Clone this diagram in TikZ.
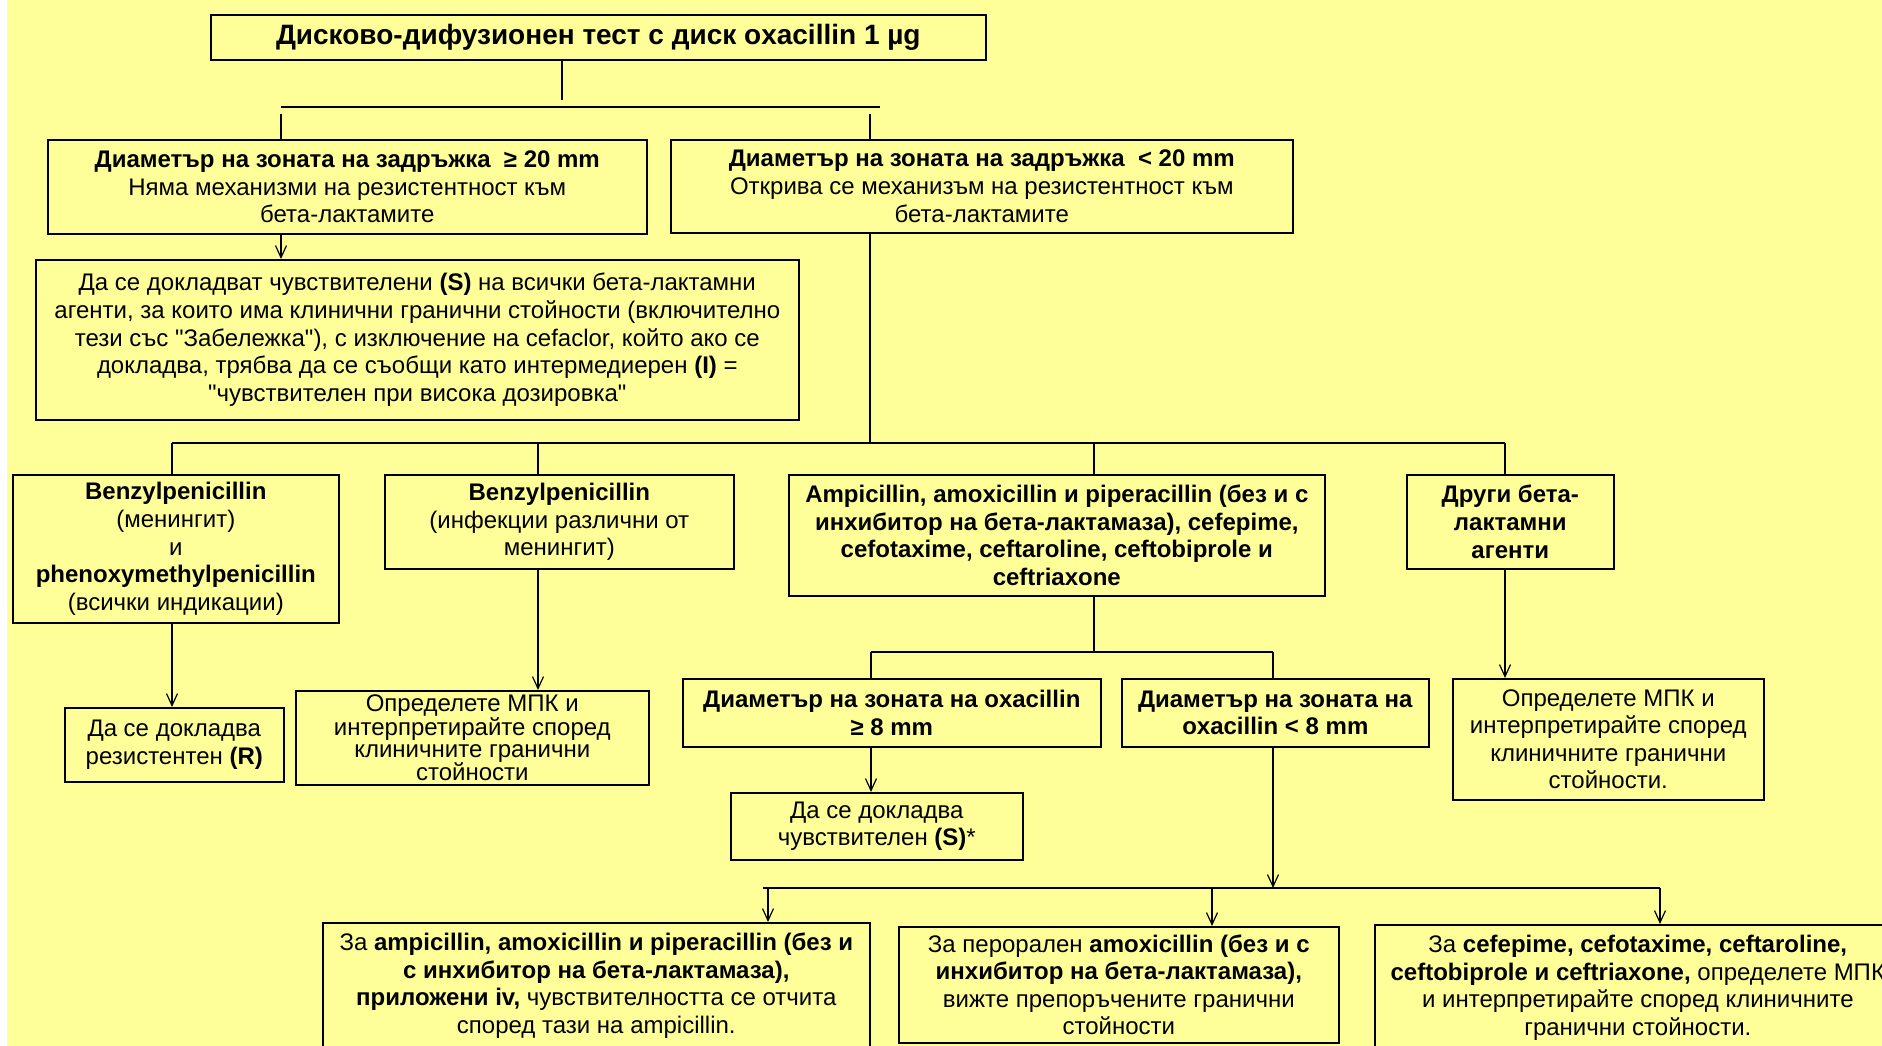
\documentclass[tikz,border=0pt]{standalone}
\usepackage{fontspec}
\setmainfont{Liberation Sans}
\usetikzlibrary{arrows.meta}
\definecolor{bgyellow}{HTML}{FFFF99}

\begin{document}
\begin{tikzpicture}[x=1pt, y=-1pt]
	\tikzset{
		fbox/.style={draw=black, line width=1.6pt, fill=bgyellow, inner sep=0pt, align=center, anchor=north west, font=\fontsize{24}{27.6}\selectfont, execute at begin node={\vspace*{5pt}}},
		bfbox/.style={fbox, font=\fontsize{24}{27.6}\selectfont\bfseries},
		headbox/.style={fbox, font=\fontsize{28}{30}\selectfont\bfseries},
		tightbox/.style={fbox, font=\fontsize{24}{22}\selectfont},
		link/.style={line width=1.2pt},
		arr/.style={link, -{Straight Barb[length=12pt, width=11pt]}}
	}
	\newcommand{\flowbox}[7][fbox]{
		\node[#1, minimum width=#5pt, minimum height=#6pt] (#2) at (#3,#4) {#7};
	}
	\useasboundingbox (0,0) rectangle (1882,1046);
	\clip (0,0) rectangle (1882,1046);
	\fill[white] (0,0) rectangle (7,1046);
	\fill[bgyellow] (7,0) rectangle (1882,1046);

	\flowbox[headbox]{title}{210}{14}{775}{45}{Дисково-дифузионен тест с диск oxacillin 1 µg}
	\flowbox{lo}{47}{139}{599}{94}{\textbf{Диаметър на зоната на задръжка~ ≥ 20 mm}\\Няма механизми на резистентност към\\бета-лактамите}
	\flowbox{hi}{670}{139}{622}{93}{\textbf{Диаметър на зоната на задръжка~ < 20 mm}\\Открива се механизъм на резистентност към\\бета-лактамите}
	\flowbox{rep}{35}{259}{763}{160}{Да се докладват чувствителени \textbf{(S)} на всички бета-лактамни\\агенти, за които има клинични гранични стойности (включително\\тези със \textquotedbl Забележка\textquotedbl), с изключение на cefaclor, който ако се\\докладва, трябва да се съобщи като интермедиерен \textbf{(I)} =\\\textquotedbl чувствителен при висока дозировка\textquotedbl}
	\flowbox{pen1}{12}{474}{326}{148}{\textbf{Benzylpenicillin}\\(менингит)\\и\\\textbf{phenoxymethylpenicillin}\\(всички индикации)}
	\flowbox{pen2}{384}{474}{349}{94}{\textbf{Benzylpenicillin}\\(инфекции различни от\\менингит)}
	\flowbox[bfbox]{amp}{788}{474}{536}{121}{Ampicillin, amoxicillin и piperacillin (без и с\\инхибитор на бета-лактамаза), cefepime,\\cefotaxime, ceftaroline, ceftobiprole и\\ceftriaxone}
	\flowbox[bfbox]{oth}{1406}{474}{207}{94}{Други бета-\\лактамни\\агенти}
	\flowbox{resR}{64}{707}{219}{74}{Да се докладва\\резистентен \textbf{(R)}}
	\flowbox[tightbox]{mic1}{295}{690}{353}{94}{Определете МПК и\\интерпретирайте според\\клиничните гранични\\стойности}
	\flowbox[bfbox]{ox1}{682}{678}{418}{68}{Диаметър на зоната на oxacillin\\≥ 8 mm}
	\flowbox[bfbox]{ox2}{1121}{678}{307}{68}{Диаметър на зоната на\\oxacillin < 8 mm}
	\flowbox{mic2}{1452}{678}{311}{121}{Определете МПК и\\интерпретирайте според\\клиничните гранични\\стойности.}
	\flowbox{sus}{730}{792}{292}{67}{Да се докладва\\чувствителен \textbf{(S)}*}
	\flowbox{fa}{322}{922}{547}{126}{За \textbf{ampicillin, amoxicillin и piperacillin (без и}\\\textbf{с инхибитор на бета-лактамаза),}\\\textbf{приложени iv,} чувствителността се отчита\\според тази на ampicillin.}
	\flowbox{fb}{898}{926}{440}{116}{За перорален \textbf{amoxicillin (без и с}\\\textbf{инхибитор на бета-лактамаза),}\\вижте препоръчените гранични\\стойности}
	\flowbox{fc}{1374}{924}{526}{126}{За \textbf{cefepime, cefotaxime, ceftaroline,}\\\textbf{ceftobiprole и ceftriaxone,} определете МПК\\и интерпретирайте според клиничните\\гранични стойности.}

	\coordinate (t0) at (562,100);
	\coordinate (bl) at (281,107);
	\coordinate (bm) at (870,107);
	\coordinate (br) at (880,107);
	\draw[link] (title.south -| t0) -- (t0);
	\draw[link] (bl) -- (br);
	\draw[link] ([yshift=-7pt]bl) -- (lo.north -| bl);
	\draw[link] ([yshift=-7pt]bm) -- (hi.north -| bm);
	\draw[arr] (lo.south -| bl) -- (rep.north -| bl);

	\coordinate (k0) at (870,443);
	\coordinate (k1) at (172,443);
	\coordinate (k2) at (538,443);
	\coordinate (k3) at (1094,443);
	\coordinate (k4) at (1505,443);
	\draw[link] (hi.south -| k0) -- (k0);
	\draw[link] (k1) -- (k4);
	\foreach \k/\b in {k1/pen1, k2/pen2, k3/amp, k4/oth}
		\draw[link] (\k) -- (\b.north -| \k);
	\draw[arr] (pen1.south -| k1) -- (resR.north -| k1);
	\draw[arr] (pen2.south -| k2) -- (mic1.north -| k2);
	\draw[arr] (oth.south -| k4) -- (mic2.north -| k4);

	\coordinate (m0) at (1094,652);
	\coordinate (m1) at (871,652);
	\coordinate (m2) at (1273,652);
	\draw[link] (amp.south -| m0) -- (m0);
	\draw[link] (m1) -- (m2);
	\draw[link] (m1) -- (ox1.north -| m1);
	\draw[link] (m2) -- (ox2.north -| m2);
	\draw[arr] (ox1.south -| m1) -- (sus.north -| m1);

	\coordinate (n0) at (1273,888);
	\coordinate (n1) at (763,888);
	\coordinate (n2) at (768,888);
	\coordinate (n3) at (1212,888);
	\coordinate (n4) at (1660,888);
	\draw[arr] (ox2.south -| n0) -- (n0);
	\draw[link] (n1) -- (n4);
	\foreach \n/\b in {n2/fa, n3/fb, n4/fc}
		\draw[arr] (\n) -- (\b.north -| \n);
\end{tikzpicture}
\end{document}
